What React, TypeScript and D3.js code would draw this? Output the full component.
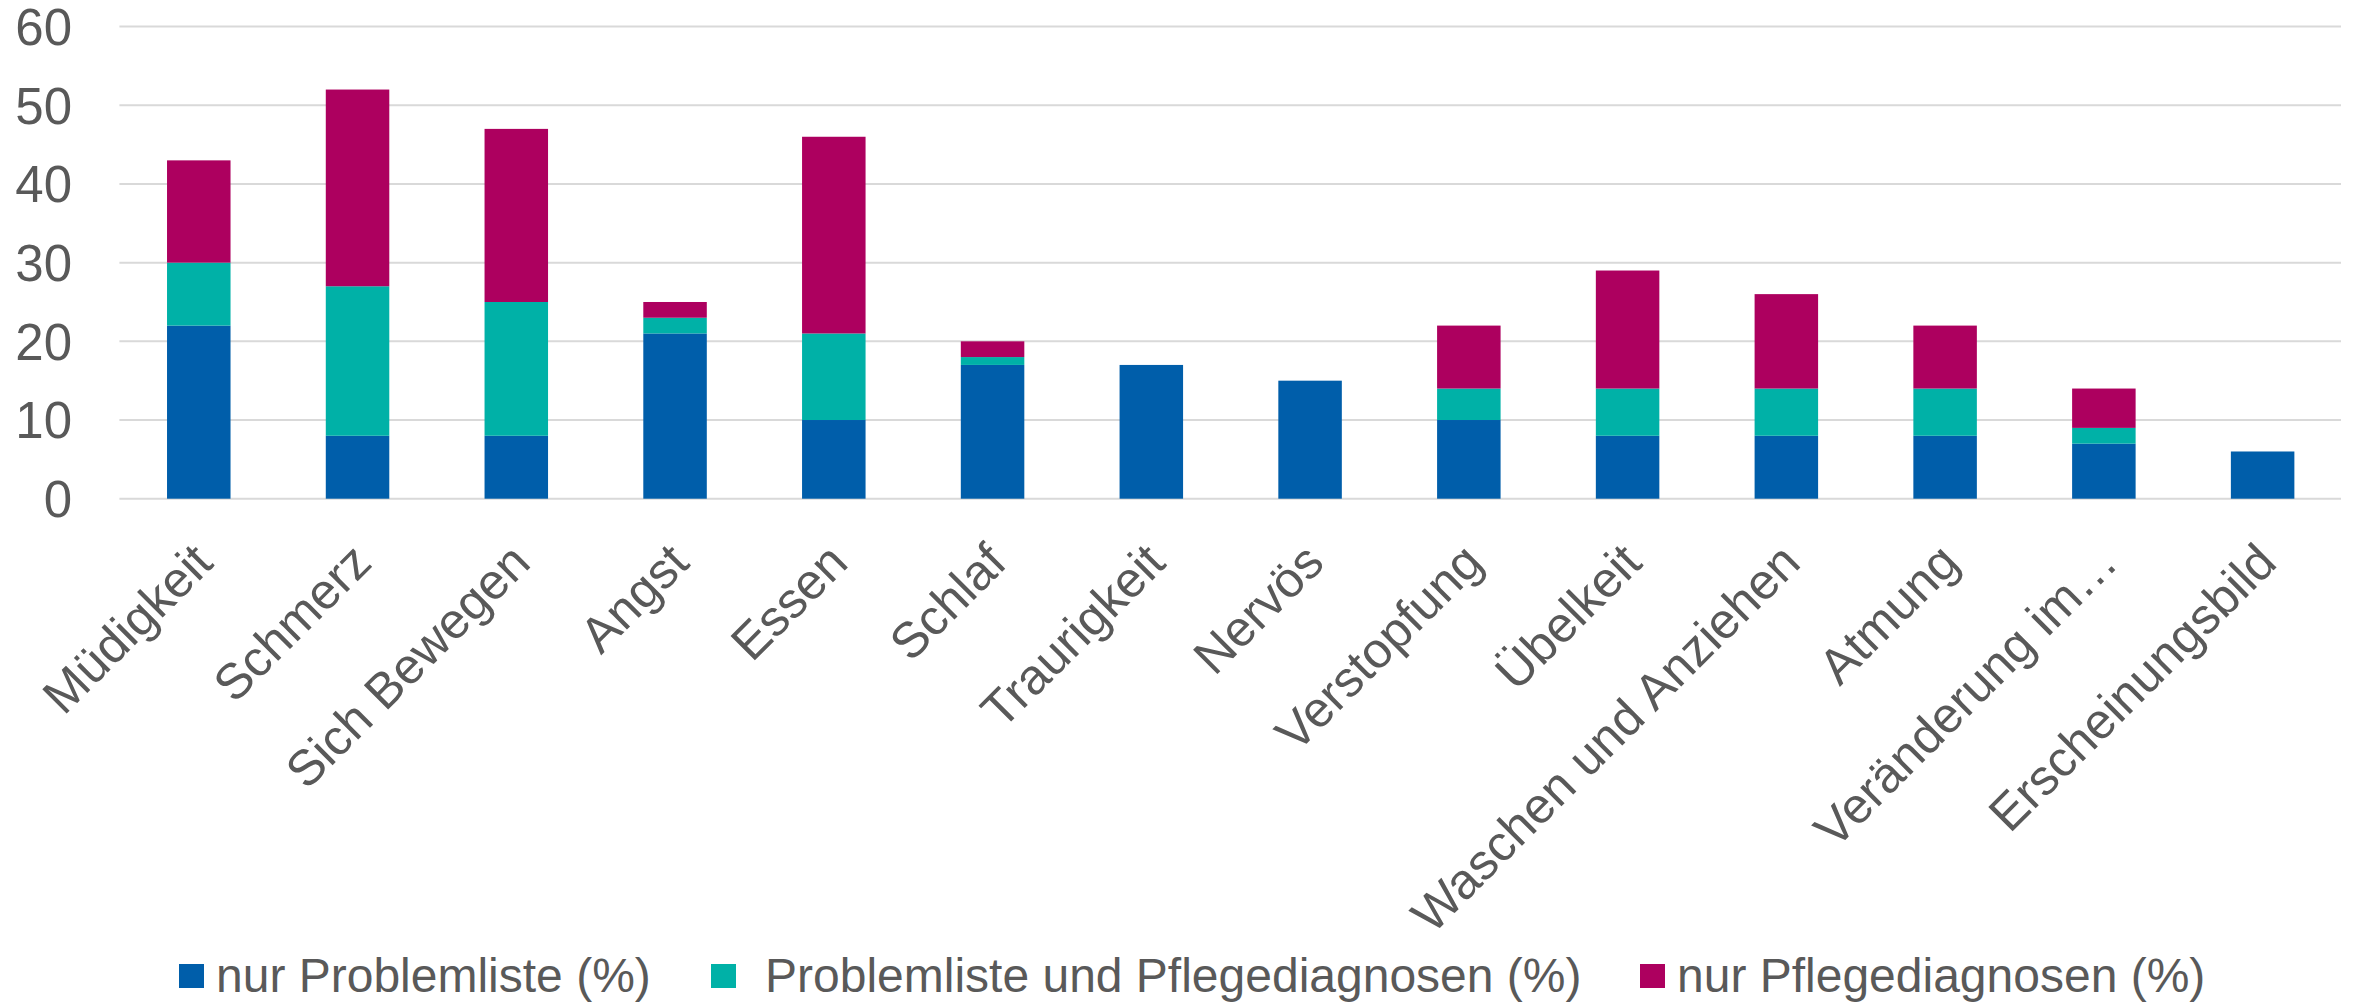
import React, { useEffect, useRef } from "react";
import * as d3 from "d3";

const categories = [
  "Müdigkeit",
  "Schmerz",
  "Sich Bewegen",
  "Angst",
  "Essen",
  "Schlaf",
  "Traurigkeit",
  "Nervös",
  "Verstopfung",
  "Übelkeit",
  "Waschen und Anziehen",
  "Atmung",
  "Veränderung im…",
  "Erscheinungsbild",
];

const nurProblemliste = [22, 8, 8, 21, 10, 17, 17, 15, 10, 8, 8, 8, 7, 6];
const problemlisteUndPflege = [8, 19, 17, 2, 11, 1, 0, 0, 4, 6, 6, 6, 2, 0];
const nurPflegediagnosen = [13, 25, 22, 2, 25, 2, 0, 0, 8, 15, 12, 8, 5, 0];

const seriesNames = [
  "nur Problemliste (%)",
  "Problemliste und Pflegediagnosen (%)",
  "nur Pflegediagnosen (%)",
];
const seriesColors = ["#005EAA", "#00B1A7", "#AD005F"];
const yTicks = [0, 10, 20, 30, 40, 50, 60];

const W = 2356;
const H = 1003;
const FONT = "'Liberation Sans', Arial, sans-serif";
const TEXT = "#595959";

const App = () => {
  const svgRef = useRef<SVGSVGElement>(null);

  useEffect(() => {
    if (!svgRef.current) return;
    const svg = d3.select(svgRef.current);
    svg.selectAll("*").remove();

    const left = 119.4;
    const right = 2342;
    const top = 26.6;
    const bottom = 498.7;

    const x = d3
      .scaleBand<string>()
      .domain(categories)
      .range([left, right])
      .paddingInner(0.6)
      .paddingOuter(0.3);

    const y = d3.scaleLinear().domain([0, 60]).range([bottom, top]);

    const rows = categories.map((c, i) => ({
      cat: c,
      s0: nurProblemliste[i],
      s1: problemlisteUndPflege[i],
      s2: nurPflegediagnosen[i],
    }));

    const stacked = d3.stack<any>().keys(["s0", "s1", "s2"])(rows);

    // gridlines
    svg
      .append("g")
      .selectAll("line")
      .data(yTicks)
      .join("line")
      .attr("x1", left)
      .attr("x2", right - 1)
      .attr("y1", (d) => y(d))
      .attr("y2", (d) => y(d))
      .attr("stroke", "#d9d9d9")
      .attr("stroke-width", 2);

    // y labels
    svg
      .append("g")
      .selectAll("text")
      .data(yTicks)
      .join("text")
      .attr("x", 72)
      .attr("y", (d) => y(d))
      .attr("dy", "0.36em")
      .attr("text-anchor", "end")
      .attr("font-family", FONT)
      .attr("font-size", 51)
      .attr("fill", TEXT)
      .text((d) => d);

    // bars
    svg
      .append("g")
      .selectAll("g")
      .data(stacked)
      .join("g")
      .attr("fill", (_, i) => seriesColors[i])
      .selectAll("rect")
      .data((d) => d.filter((p) => p[1] - p[0] > 0))
      .join("rect")
      .attr("x", (d) => x(d.data.cat)!)
      .attr("width", x.bandwidth())
      .attr("y", (d) => y(d[1]))
      .attr("height", (d) => y(d[0]) - y(d[1]));

    // category labels, rotated like the spreadsheet axis
    svg
      .append("g")
      .selectAll("text")
      .data(categories)
      .join("text")
      .attr(
        "transform",
        (d) => `translate(${x(d)! + x.bandwidth() / 2 + 4},${bottom + 54}) rotate(-45)`
      )
      .attr("dy", "0.35em")
      .attr("text-anchor", "end")
      .attr("font-family", FONT)
      .attr("font-size", 50)
      .attr("fill", TEXT)
      .text((d) => d);

    // legend
    const legendX = [179, 711, 1640];
    const legend = svg
      .append("g")
      .selectAll("g")
      .data(seriesNames)
      .join("g")
      .attr("transform", (_, i) => `translate(${legendX[i]},964)`);

    legend
      .append("rect")
      .attr("width", 25)
      .attr("height", 24)
      .attr("fill", (_, i) => seriesColors[i]);

    legend
      .append("text")
      .attr("x", (_, i) => (i === 1 ? 54 : 37))
      .attr("y", 28)
      .attr("font-family", FONT)
      .attr("font-size", 48)
      .attr("fill", TEXT)
      .text((d) => d);
  }, []);

  return (
    <div style={{ position: "absolute", left: 0, top: 0 }}>
      <svg
        ref={svgRef}
        width={W}
        height={H}
        style={{ display: "block", background: "#fff" }}
      />
    </div>
  );
};

export default App;
